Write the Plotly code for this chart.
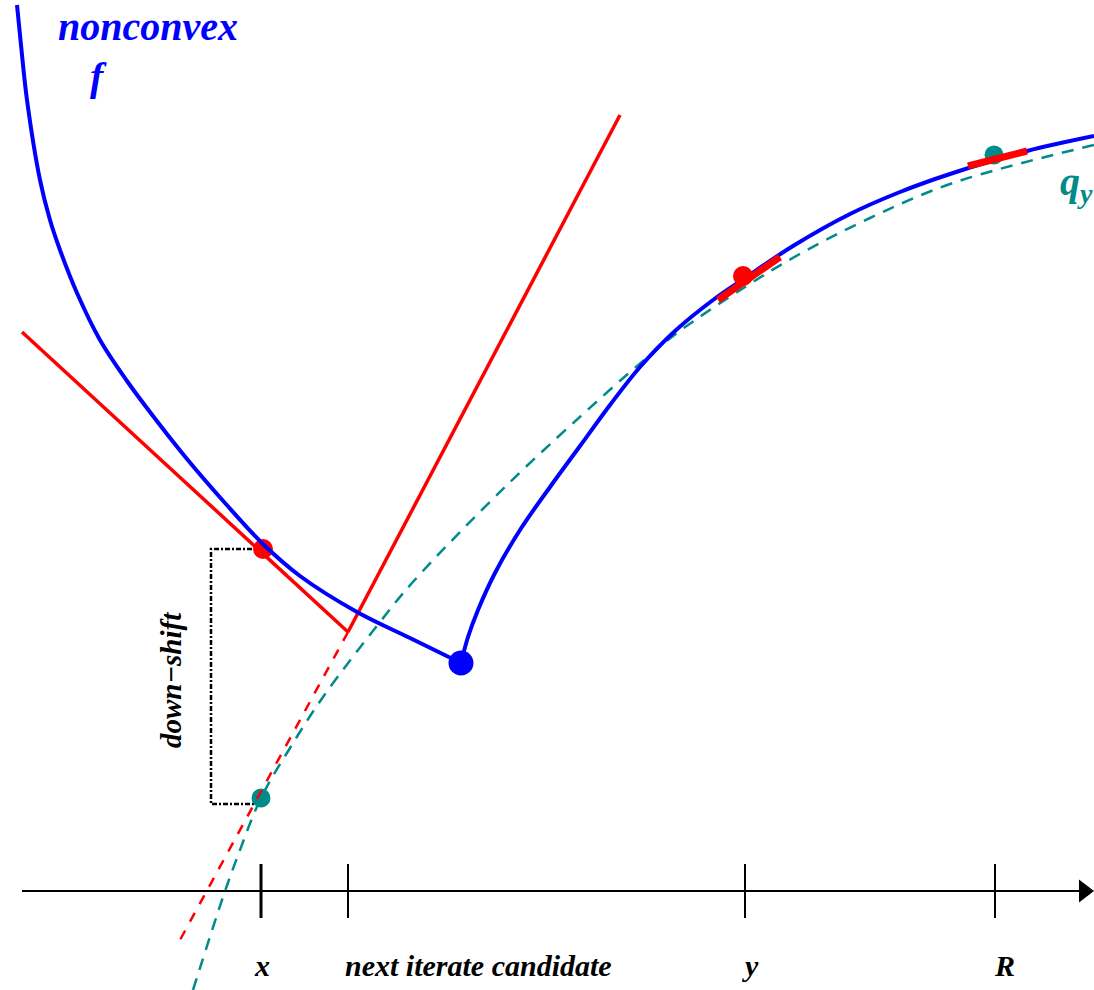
import plotly.graph_objects as go

# ---- diagram data (x to the right, y measured downward, in diagram units) ----
f_left_x = [17, 21, 27, 40, 50, 60, 77, 100, 127, 153, 187, 225, 263, 300, 357, 410, 461]
f_left_y = [5, 45, 100, 180, 220, 250, 293, 340, 381, 416, 459, 503, 544, 576, 612, 638, 663]

f_right_x = [461, 468, 478, 495, 520, 550, 580, 610, 640, 675, 713, 745, 793, 850, 900, 950, 1027, 1094]
f_right_y = [663, 637, 610, 573, 530, 487, 446, 405, 367, 331, 300, 278, 246, 214, 192, 174, 151, 136]

qy_x = [193, 223, 237, 261, 290, 323, 380, 412, 507, 603, 643, 677, 745, 798, 870, 953, 1094]
qy_y = [990, 897, 858, 798, 748, 697, 622, 583, 485, 396, 361, 333, 287, 255, 218, 183, 145]

cut_left_x = [22, 348]
cut_left_y = [332, 632]
cut_right_x = [348, 620]
cut_right_y = [632, 115]
cut_ext_x = [348, 180]
cut_ext_y = [632, 940]

seg_y_x = [718, 780]
seg_y_y = [300, 257]
seg_R_x = [968, 1027]
seg_R_y = [166, 151]

bracket_x = [263, 211, 211, 258]
bracket_y = [549, 549, 804, 804]

red_pts_x = [263, 743]
red_pts_y = [549, 276]
blue_pt_x = [461]
blue_pt_y = [663]
teal_pts_x = [261, 994]
teal_pts_y = [798, 155]

axis_x = [22, 1080]
axis_level = 891
tick_pos = [261, 348, 745, 995]
tick_labels = ["x", "next iterate candidate", "y", "R"]
label_x = [262, 478, 750, 1004]

BLUE = "#0000ff"
RED = "#ff0000"
TEAL = "#008b8b"
FONT = "Liberation Serif"

fig = go.Figure()

# q_y dashed model
fig.add_trace(go.Scatter(x=qy_x, y=qy_y, mode="lines", line=dict(color=TEAL, width=2.5, dash="12px,9px", shape="spline", smoothing=1.0)))
# axis
fig.add_trace(go.Scatter(x=axis_x, y=[axis_level] * 2, mode="lines", line=dict(color="black", width=2)))
fig.add_trace(go.Scatter(x=[axis_x[1] + 4], y=[axis_level], mode="markers",
                         marker=dict(symbol="triangle-right", size=20, color="black", line=dict(width=0))))
for i, t in enumerate(tick_pos):
    fig.add_trace(go.Scatter(x=[t, t], y=[axis_level - 27, axis_level + 27], mode="lines",
                             line=dict(color="black", width=3 if i == 0 else 2)))
# bracket
fig.add_trace(go.Scatter(x=bracket_x, y=bracket_y, mode="lines", line=dict(color="black", width=2.5, dash="5px,2px,2px,2px")))
# teal points
fig.add_trace(go.Scatter(x=teal_pts_x, y=teal_pts_y, mode="markers", marker=dict(color=TEAL, size=19, line=dict(width=0))))
# cutting planes
fig.add_trace(go.Scatter(x=cut_ext_x, y=cut_ext_y, mode="lines", line=dict(color=RED, width=2.5, dash="10px,10px")))
fig.add_trace(go.Scatter(x=cut_left_x, y=cut_left_y, mode="lines", line=dict(color=RED, width=3.5)))
fig.add_trace(go.Scatter(x=cut_right_x, y=cut_right_y, mode="lines", line=dict(color=RED, width=3.5)))
fig.add_trace(go.Scatter(x=red_pts_x[:1], y=red_pts_y[:1], mode="markers", marker=dict(color=RED, size=20, line=dict(width=0))))
# f
fig.add_trace(go.Scatter(x=f_left_x, y=f_left_y, mode="lines", line=dict(color=BLUE, width=4, shape="spline", smoothing=1.0)))
fig.add_trace(go.Scatter(x=f_right_x, y=f_right_y, mode="lines", line=dict(color=BLUE, width=4, shape="spline", smoothing=1.0)))
fig.add_trace(go.Scatter(x=blue_pt_x, y=blue_pt_y, mode="markers", marker=dict(color=BLUE, size=25, line=dict(width=0))))
# red tangent segments
fig.add_trace(go.Scatter(x=seg_y_x, y=seg_y_y, mode="lines", line=dict(color=RED, width=7)))
fig.add_trace(go.Scatter(x=seg_R_x, y=seg_R_y, mode="lines", line=dict(color=RED, width=7)))
fig.add_trace(go.Scatter(x=red_pts_x[1:], y=red_pts_y[1:], mode="markers", marker=dict(color=RED, size=20, line=dict(width=0))))

def label(x, y, text, color="black", size=24, angle=0, xanchor="center"):
    fig.add_annotation(x=x, y=y, xref="x", yref="y", text=f"<b><i>{text}</i></b>", showarrow=False,
                       font=dict(family=FONT, size=size, color=color), textangle=angle,
                       xanchor=xanchor, yanchor="middle")

label(148, 26, "nonconvex", BLUE, 40)
label(98, 76, "f", BLUE, 40)
label(1058, 184, "q<sub>y</sub>", TEAL, 40, xanchor="left")
label(171, 680, "down\u2212shift", "black", 29, -90)
for lx, txt in zip(label_x, tick_labels):
    label(lx, 965, txt, "black", 30)

fig.update_layout(
    width=1094, height=990, margin=dict(l=0, r=0, t=0, b=0),
    paper_bgcolor="white", plot_bgcolor="white", showlegend=False,
    xaxis=dict(range=[0, 1094], visible=False, fixedrange=True),
    yaxis=dict(range=[990, 0], visible=False, fixedrange=True),
)
fig.write_html("out.html")
